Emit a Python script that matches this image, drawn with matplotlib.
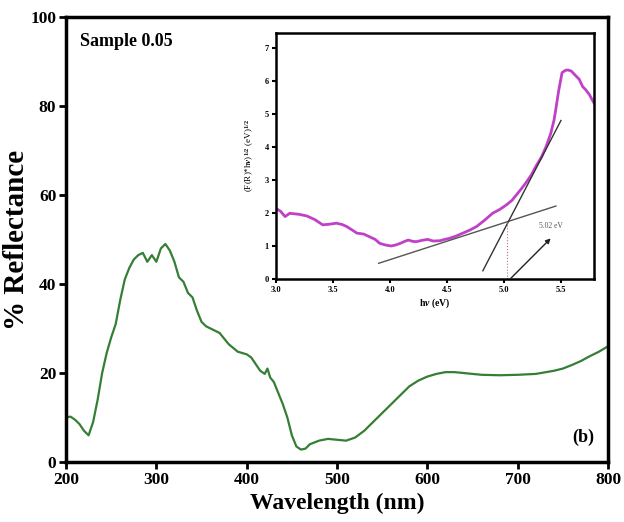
import numpy as np
import matplotlib.pyplot as plt
import matplotlib as mlp

mlp.rcParams['font.family'] = ['Liberation Serif', 'DejaVu Serif']
mlp.rcParams['font.weight'] = 'bold'
mlp.rcParams['mathtext.fontset'] = 'custom'
mlp.rcParams['mathtext.rm'] = 'Liberation Serif:bold'
mlp.rcParams['mathtext.it'] = 'Liberation Serif:italic:bold'

# main reflectance spectrum
wl = [200, 205, 210, 215, 220, 225, 230, 235, 240, 245, 250, 255, 260, 265, 270, 275,
      280, 285, 290, 295, 300, 305, 310, 315, 320, 325, 330, 335, 340, 345, 350, 355,
      360, 370, 380, 390, 400, 405, 410, 415, 420, 423, 426, 430, 435, 440, 445, 450,
      455, 460, 465, 470, 480, 490, 500, 510, 520, 530, 540, 550, 560, 570, 580, 590,
      600, 610, 620, 630, 640, 650, 660, 680, 700, 720, 740, 750, 760, 770, 780, 790, 800]
refl = [10, 10.2, 9.5, 8.5, 7, 6, 9, 14, 20, 24.5, 28, 31, 36.4, 41, 43.6, 45.5,
        46.5, 47, 45, 46.5, 45, 48, 49, 47.5, 45, 41.5, 40.5, 38, 37, 34, 31.5, 30.5,
        30, 29, 26.5, 24.8, 24.2, 23.5, 22, 20.5, 19.8, 21, 19, 18, 15.5, 13, 10, 6,
        3.5, 2.8, 3, 4, 4.8, 5.2, 5, 4.8, 5.5, 7, 9, 11, 13, 15, 17, 18.3,
        19.2, 19.8, 20.2, 20.2, 20, 19.8, 19.6, 19.5, 19.6, 19.8, 20.5, 21, 21.8, 22.7, 23.8, 24.8, 26]

# inset Tauc plot
ev = [3.0, 3.04, 3.08, 3.12, 3.2, 3.27, 3.34, 3.41, 3.47, 3.53, 3.58, 3.62, 3.67, 3.71, 3.77,
      3.82, 3.87, 3.91, 3.96, 4.01, 4.05, 4.09, 4.13, 4.16, 4.2, 4.23, 4.28, 4.33, 4.38, 4.44,
      4.48, 4.52, 4.58, 4.64, 4.7, 4.76, 4.83, 4.9, 4.96, 5.02, 5.07, 5.11, 5.15, 5.19, 5.24,
      5.28, 5.33, 5.37, 5.41, 5.44, 5.46, 5.48, 5.51, 5.54, 5.56, 5.59, 5.62, 5.66, 5.69, 5.72,
      5.75, 5.79]
tauc = [2.14, 2.05, 1.89, 1.99, 1.96, 1.91, 1.8, 1.64, 1.66, 1.69, 1.65, 1.59, 1.48, 1.39, 1.36,
        1.28, 1.2, 1.08, 1.03, 1.0, 1.03, 1.08, 1.14, 1.18, 1.14, 1.13, 1.17, 1.2, 1.15, 1.16,
        1.2, 1.23, 1.3, 1.39, 1.48, 1.59, 1.78, 1.99, 2.1, 2.24, 2.38, 2.55, 2.72, 2.9, 3.15,
        3.41, 3.7, 4.01, 4.4, 4.82, 5.25, 5.7, 6.25, 6.32, 6.33, 6.3, 6.19, 6.05, 5.83, 5.72,
        5.58, 5.33]

# fitted tangent lines and band gap
fit1_x = [3.9, 5.456]
fit1_y = [0.475, 2.21]
fit2_x = [4.815, 5.5]
fit2_y = [0.25, 4.8]
gap = 5.03
gap_y = 1.79

fig = plt.figure(figsize=(6.24, 5.22), dpi=100)
ax = fig.add_axes([0.1058, 0.1149, 0.8686, 0.8525])
ax.plot(wl, refl, color='#357f35', linewidth=1.6)
ax.set_xlim(200, 800)
ax.set_ylim(0, 100)
ax.set_xticks(range(200, 801, 100))
ax.set_yticks(range(0, 101, 20))
ax.tick_params(direction='out', length=5, width=2, labelsize=12.5, pad=2)
for s in ax.spines.values():
    s.set_linewidth(2.5)
ax.set_xlabel('Wavelength (nm)', fontsize=17, fontweight='bold', labelpad=4)
ax.set_ylabel('% Reflectance', fontsize=21, fontweight='bold')
ax.yaxis.set_label_coords(-0.066, 0.5)
ax.text(0.025, 0.965, 'Sample 0.05', transform=ax.transAxes, fontsize=13,
        fontweight='bold', va='top', ha='left')
ax.text(0.975, 0.035, '(b)', transform=ax.transAxes, fontsize=13,
        fontweight='bold', va='bottom', ha='right')

ins = fig.add_axes([0.4423, 0.4655, 0.5096, 0.4713])
ins.plot(ev, tauc, color='#c040c8', linewidth=2.0)
ins.plot(fit1_x, fit1_y, color='#555555', linewidth=1.0)
ins.plot(fit2_x, fit2_y, color='#333333', linewidth=1.0)
ins.plot([gap, gap], [0, gap_y], color='#c07070', linewidth=0.8, linestyle=':')
ins.annotate('', xy=(5.41, 1.23), xytext=(5.06, 0.02),
             arrowprops=dict(arrowstyle='-|>', color='#222222', lw=1.0,
                             mutation_scale=7, shrinkA=0, shrinkB=0))
ins.text(5.31, 1.54, '5.02 eV', fontsize=5.5, fontweight='normal', color='#555555')
ins.set_xlim(3.0, 5.79)
ins.set_ylim(0, 7.45)
ins.set_xticks([3.0, 3.5, 4.0, 4.5, 5.0, 5.5])
ins.set_yticks(range(0, 8))
ins.tick_params(direction='out', length=3, width=1.5, labelsize=6, pad=2)
for s in ins.spines.values():
    s.set_linewidth(1.8)
ins.set_xlabel(r'h$\nu$ (eV)', fontsize=7, fontweight='bold', labelpad=2)
ins.set_ylabel(r'(F(R)*h$\nu$)$^{1/2}$ (eV)$^{1/2}$', fontsize=6.5,
               fontweight='normal', labelpad=6)

plt.savefig('out.png', dpi=100)
